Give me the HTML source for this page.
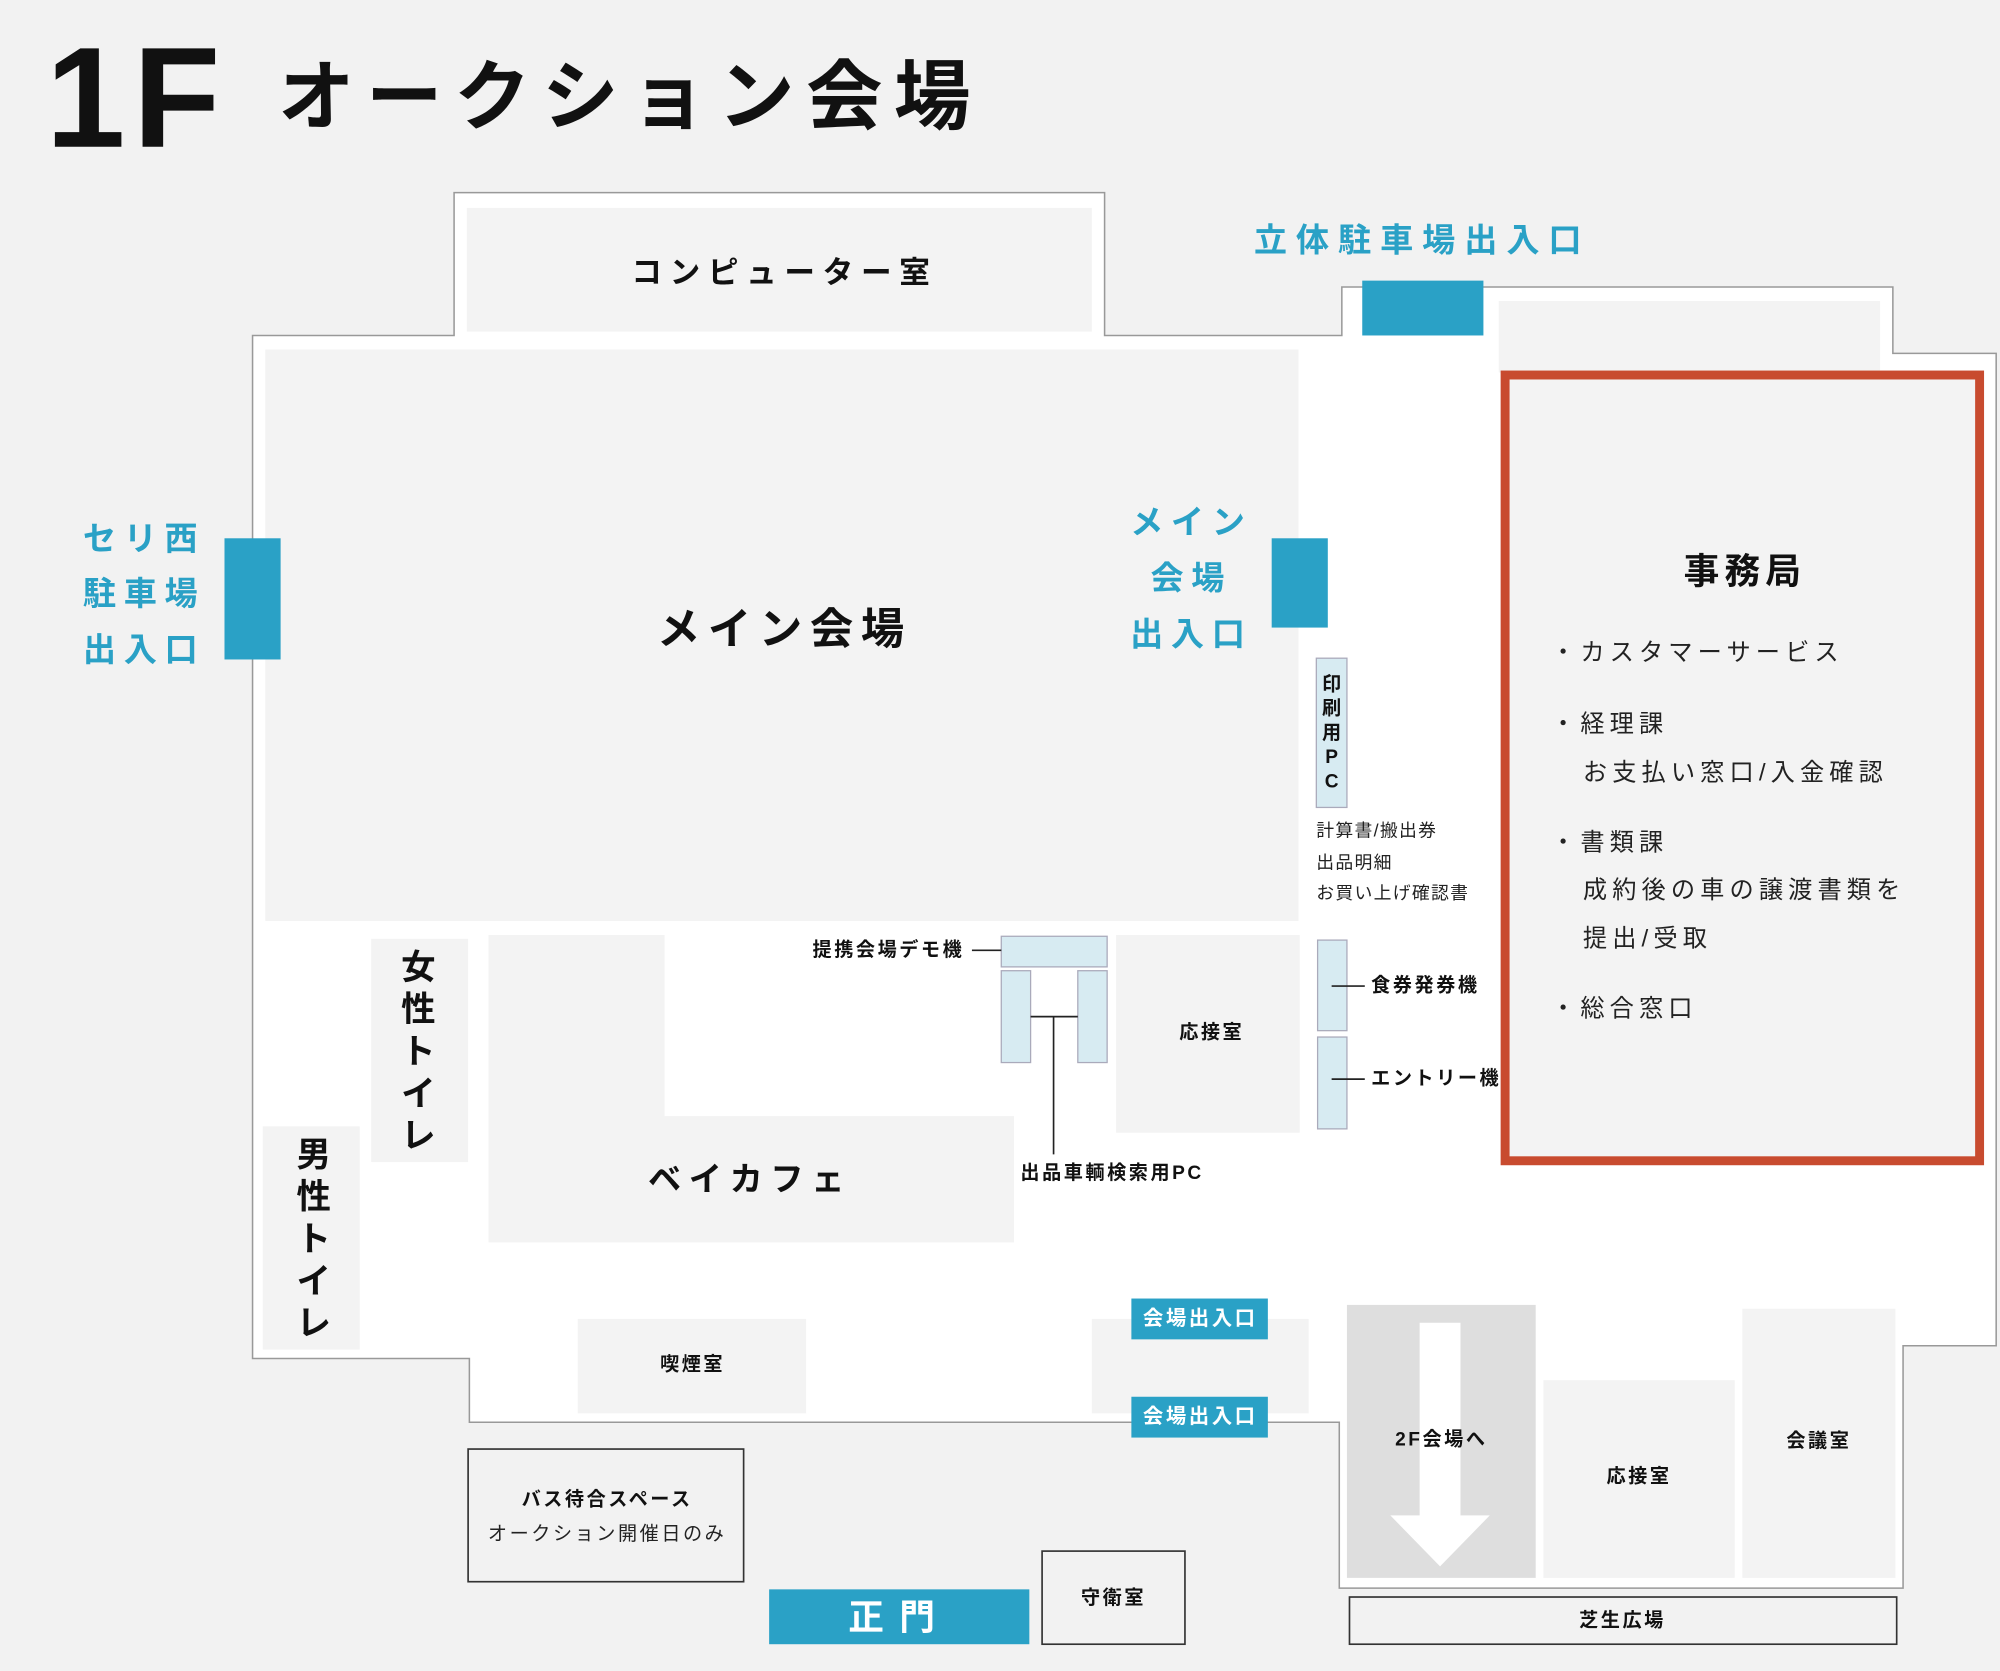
<!DOCTYPE html>
<html><head><meta charset="utf-8"><style>
html,body{margin:0;padding:0;background:#f2f2f2;}
svg{display:block;}
text{font-family:"Liberation Sans","Noto Sans CJK JP",sans-serif;dominant-baseline:central;}
.b{font-weight:bold;}
.bl{fill:#2aa1c6;font-weight:bold;}
.m{text-anchor:middle;}
</style></head><body>
<svg width="2000" height="1671" viewBox="0 0 1568 1310" preserveAspectRatio="none" xmlns="http://www.w3.org/2000/svg">
<rect x="0" y="0" width="1568" height="1310" fill="#f2f2f2"/>
<text x="36" y="77" font-size="112" class="b" fill="#111" style="letter-spacing:6px">1F</text>
<text x="218" y="77" font-size="60" class="b" fill="#111" style="letter-spacing:9px">オークション会場</text>
<polygon points="198,263 356,263 356,151 866,151 866,263 1052,263 1052,225 1484,225 1484,277 1565,277 1565,1055 1492,1055 1492,1245 1050,1245 1050,1115 368,1115 368,1065 198,1065" fill="#fff" stroke="#999" stroke-width="1.2"/>
<g fill="#f3f3f3">
<rect x="366" y="163" width="490" height="97"/>
<rect x="208" y="274" width="810" height="448"/>
<rect x="1175" y="236" width="299" height="56"/>
<rect x="291" y="736" width="76" height="175"/>
<rect x="206" y="883" width="76" height="175"/>
<polygon points="383,733 521,733 521,875 795,875 795,974 383,974"/>
<rect x="875" y="733" width="144" height="155"/>
<rect x="453" y="1034" width="179" height="74"/>
<rect x="856" y="1034" width="170" height="74"/>
<rect x="1210" y="1082" width="150" height="155"/>
<rect x="1366" y="1026" width="120" height="211"/>
</g>
<rect x="1180" y="294" width="372" height="616" fill="#f3f3f3" stroke="#c84b2f" stroke-width="7"/>
<g fill="#2aa1c6">
<rect x="1068" y="220" width="95" height="43"/>
<rect x="176" y="422" width="44" height="95"/>
<rect x="997" y="422" width="44" height="70"/>
<rect x="887" y="1018" width="107" height="32"/>
<rect x="887" y="1095" width="107" height="32"/>
<rect x="603" y="1246" width="204" height="43"/>
</g>
<g fill="#d7ebf2" stroke="#aab" stroke-width="1">
<rect x="1032" y="516" width="24" height="117"/>
<rect x="785" y="734" width="83" height="24"/>
<rect x="785" y="761" width="23" height="72"/>
<rect x="845" y="761" width="23" height="72"/>
<rect x="1033" y="737" width="23" height="71"/>
<rect x="1033" y="813" width="23" height="72"/>
</g>
<g stroke="#222" stroke-width="1.3">
<line x1="808" y1="797" x2="845" y2="797"/>
<line x1="826" y1="797" x2="826" y2="905"/>
<line x1="762" y1="745" x2="785" y2="745"/>
<line x1="1044" y1="773" x2="1070" y2="773"/>
<line x1="1044" y1="846" x2="1070" y2="846"/>
</g>
<rect x="1056" y="1023" width="148" height="214" fill="#dedede"/>
<rect x="1113" y="1037" width="32" height="152" fill="#fff"/>
<polygon points="1090,1188 1168,1188 1129,1228" fill="#fff"/>
<g fill="#f2f2f2" stroke="#333" stroke-width="1.3">
<rect x="1058" y="1252" width="429" height="37"/>
<rect x="367" y="1136" width="216" height="104"/>
<rect x="817" y="1216" width="112" height="73"/>
</g>
<g fill="#111" class="b">
<text x="615" y="214" font-size="24" class="m b" style="letter-spacing:6px">コンピューター室</text>
<text x="615" y="494" font-size="34" class="m b" style="letter-spacing:6px">メイン会場</text>
<text x="1368" y="448" font-size="28" class="m b" style="letter-spacing:4px">事務局</text>
<text x="588" y="925" font-size="26" class="m b" style="letter-spacing:6px">ベイカフェ</text>
</g>
<g class="bl" font-size="26">
<text x="1115" y="189" class="m bl" style="letter-spacing:7px">立体駐車場出入口</text>
<text x="113" y="423" class="m bl" style="letter-spacing:6px">セリ西</text>
<text x="113" y="466" class="m bl" style="letter-spacing:6px">駐車場</text>
<text x="113" y="510" class="m bl" style="letter-spacing:6px">出入口</text>
<text x="934" y="410" class="m bl" style="letter-spacing:6px">メイン</text>
<text x="934" y="454" class="m bl" style="letter-spacing:6px">会場</text>
<text x="934" y="498" class="m bl" style="letter-spacing:6px">出入口</text>
</g>
<g fill="#222" font-size="19" style="letter-spacing:4px">
<text x="1216" y="512">・カスタマーサービス</text>
<text x="1216" y="568">・経理課</text>
<text x="1241" y="606">お支払い窓口/入金確認</text>
<text x="1216" y="661">・書類課</text>
<text x="1241" y="698">成約後の車の譲渡書類を</text>
<text x="1241" y="736">提出/受取</text>
<text x="1216" y="791">・総合窓口</text>
</g>
<g fill="#111" font-size="15" class="b">
<text x="1044" y="537" class="m b">印</text>
<text x="1044" y="556" class="m b">刷</text>
<text x="1044" y="575" class="m b">用</text>
<text x="1044" y="594" class="m b">P</text>
<text x="1044" y="613" class="m b">C</text>
</g>
<g fill="#222" font-size="14" style="letter-spacing:1px">
<text x="1032" y="651">計算書/搬出券</text>
<text x="1032" y="676">出品明細</text>
<text x="1032" y="700">お買い上げ確認書</text>
</g>
<g fill="#111" font-size="27" class="b">
<text x="328" y="759" class="m b">女</text>
<text x="328" y="792" class="m b">性</text>
<text x="328" y="825" class="m b">ト</text>
<text x="328" y="858" class="m b">イ</text>
<text x="328" y="891" class="m b">レ</text>
<text x="246" y="906" class="m b">男</text>
<text x="246" y="939" class="m b">性</text>
<text x="246" y="972" class="m b">ト</text>
<text x="246" y="1005" class="m b">イ</text>
<text x="246" y="1038" class="m b">レ</text>
</g>
<g fill="#111" font-size="15" class="b" style="letter-spacing:2px">
<text x="756" y="745" style="text-anchor:end;letter-spacing:2px">提携会場デモ機</text>
<text x="800" y="920">出品車輌検索用PC</text>
<text x="950" y="810" class="m b">応接室</text>
<text x="1075" y="773">食券発券機</text>
<text x="1075" y="846">エントリー機</text>
<text x="543" y="1070" class="m b">喫煙室</text>
<text x="1130" y="1129" class="m b">2F会場へ</text>
<text x="1285" y="1158" class="m b">応接室</text>
<text x="1426" y="1130" class="m b">会議室</text>
<text x="1272" y="1271" class="m b">芝生広場</text>
<text x="476" y="1176" class="m b">バス待合スペース</text>
<text x="873" y="1253" class="m b">守衛室</text>
</g>
<text x="476" y="1203" font-size="15" fill="#222" class="m" style="letter-spacing:2px">オークション開催日のみ</text>
<g fill="#fff" font-size="16" class="b" style="letter-spacing:2px">
<text x="941" y="1034" class="m b">会場出入口</text>
<text x="941" y="1111" class="m b">会場出入口</text>
</g>
<text x="705" y="1268" font-size="28" fill="#fff" class="m b" style="letter-spacing:12px">正門</text>
</svg>
</body></html>
